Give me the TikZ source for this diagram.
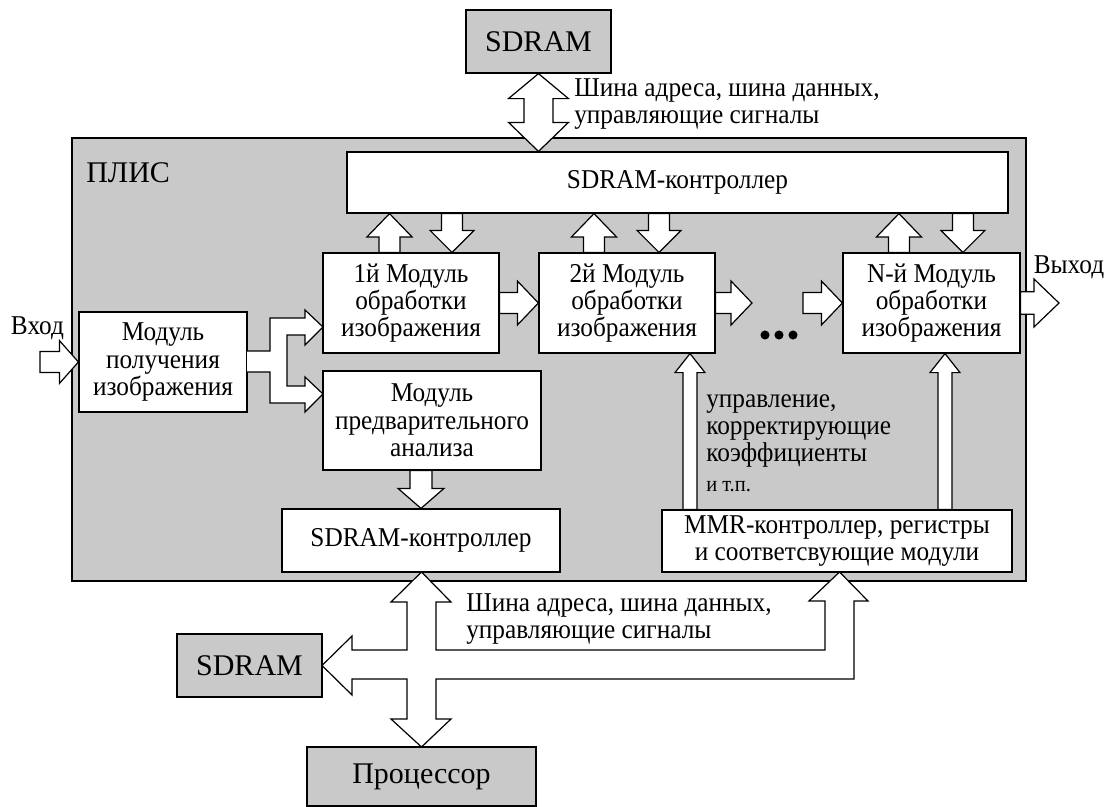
\documentclass[tikz,border=0pt]{standalone}
\usepackage{fontspec}
\setmainfont{Liberation Serif}
\newfontfamily\tallfont{Liberation Serif}[FakeStretch=0.93]
\usetikzlibrary{calc}
\definecolor{gr}{gray}{0.79}
\newcommand\fs{\tallfont\fontsize{20.4}{20.5}\selectfont}
\newcommand\fss{\tallfont\fontsize{16.5}{17}\selectfont}
\newcommand\fl{\fontsize{22.5}{26}\selectfont}
% horizontal block arrow: from #1 to tip #2; shaft half #3, head half #4, head length #5
\newcommand\HArr[5]{\draw[blk] let \p1=(#1), \p2=(#2) in
  (\x1,\y1+#3) -- (\x2-#5,\y1+#3) -- (\x2-#5,\y1+#4) -- (\x2,\y1) -- (\x2-#5,\y1-#4) -- (\x2-#5,\y1-#3) -- (\x1,\y1-#3) -- cycle;}
% upward block arrow: base #1 (x taken from it), tip level #2
\newcommand\UArr[5]{\draw[blk] let \p1=(#1), \p2=(#2) in
  (\x1-#3,\y1) -- (\x1-#3,\y2-#5) -- (\x1-#4,\y2-#5) -- (\x1,\y2) -- (\x1+#4,\y2-#5) -- (\x1+#3,\y2-#5) -- (\x1+#3,\y1) -- cycle;}
% downward block arrow: base level #1, tip #2 (x taken from it)
\newcommand\DArr[5]{\draw[blk] let \p1=(#1), \p2=(#2) in
  (\x2-#3,\y1) -- (\x2-#3,\y2+#5) -- (\x2-#4,\y2+#5) -- (\x2,\y2) -- (\x2+#4,\y2+#5) -- (\x2+#3,\y2+#5) -- (\x2+#3,\y1) -- cycle;}
\begin{document}
\begin{tikzpicture}[x=0.75pt,y=-0.75pt,
  sz/.style 2 args={minimum width=#1*0.75pt, minimum height=#2*0.75pt},
  box/.style={draw, line width=0.9pt, fill=white, inner sep=0pt, align=center, font=\fs},
  gbox/.style={draw, line width=0.9pt, fill=gr, inner sep=0pt, align=center, font=\fl},
  fpgabox/.style={draw, line width=0.9pt, fill=gr, inner sep=0pt},
  lbl/.style={inner sep=0pt, font=\fs},
  blk/.style={draw, fill=white, line width=0.9pt, line join=miter}]
\useasboundingbox (0,0) rectangle (1111,807);

\node[gbox, sz={145}{63}] (sdramT) at (538.5,41.5) {SDRAM};
\node[fpgabox, sz={954}{443}] (fpga) at (549,359.5) {};
\node[lbl, anchor=west, font=\fl] (lplis) at (86,173) {ПЛИС};

\node[box, sz={661}{61}] (ctlT) at (677.5,182.5) {SDRAM-контроллер};
\node[box, sz={176}{100}] (m1) at (411,303) {1й Модуль\\обработки\\изображения};
\node[box, sz={176}{100}] (m2) at (627,303) {2й Модуль\\обработки\\изображения};
\node[box, sz={177}{100}] (mN) at (931.5,303) {N-й Модуль\\обработки\\изображения};
\node[box, sz={168}{100}] (mget) at (163,362) {Модуль\\получения\\изображения};
\node[box, sz={218}{99}] (mpre) at (432,420.5) {Модуль\\предварительного\\анализа};
\node[box, sz={278}{63}] (ctlB) at (421,540.5) {SDRAM-контроллер};
\node[box, sz={350}{62}] (mmr) at (837,541) {MMR-контроллер, регистры\\и соответсвующие модули};
\node[gbox, sz={145}{63}] (sdramB) at (249.5,665.5) {SDRAM};
\node[gbox, sz={229}{59}] (cpu) at (421.5,776.5) {Процессор};

\node[lbl, anchor=west, align=left] (busT) at (574,104) {Шина адреса, шина данных,\\управляющие сигналы};
\node[lbl, anchor=west, align=left] (busB) at (466,619) {Шина адреса, шина данных,\\управляющие сигналы};
\node[lbl] (vin) at (37.5,328) {Вход};
\node[lbl] (vout) at (1069,267) {Выход};
\node[lbl, anchor=west, align=left] (ctrl) at (706,431) {управление,\\корректирующие\\коэффициенты};
\node[lbl, anchor=west, font=\fss] (etc) at (706,487) {и т.п.};

\coordinate (inS) at (40,362);
\coordinate (outE) at (1059,303);
\coordinate (d1) at (752,303);
\coordinate (d2) at (803,303);

% top bus double arrow
\draw[blk] let \p1=(sdramT.south), \p2=(ctlT.north) in
  (\x1,\y1) -- (\x1+22.5pt,\y1-18.75pt) -- (\x1+10.9pt,\y1-18.75pt) -- (\x1+10.9pt,\y2+21.75pt)
  -- (\x1+22.5pt,\y2+21.75pt) -- (\x1,\y2) -- (\x1-22.5pt,\y2+21.75pt) -- (\x1-10.9pt,\y2+21.75pt)
  -- (\x1-10.9pt,\y1-18.75pt) -- (\x1-22.5pt,\y1-18.75pt) -- cycle;

% controller <-> modules
\UArr{[xshift=-16.1pt]m1.north}{ctlT.south}{7.9pt}{16.9pt}{17.5pt}
\DArr{ctlT.south}{[xshift=30.75pt]m1.north}{7.9pt}{16.5pt}{16.5pt}
\UArr{[xshift=-24.75pt]m2.north}{ctlT.south}{7.9pt}{16.9pt}{17.5pt}
\DArr{ctlT.south}{[xshift=24pt]m2.north}{7.9pt}{16.5pt}{16.5pt}
\UArr{[xshift=-24.4pt]mN.north}{ctlT.south}{7.9pt}{16.9pt}{17.5pt}
\DArr{ctlT.south}{[xshift=23.6pt]mN.north}{7.9pt}{16.5pt}{16.5pt}

% horizontal chain
\HArr{inS}{mget.west}{7.9pt}{16.1pt}{14.25pt}
\HArr{m1.east}{m2.west}{7.9pt}{16.5pt}{15.75pt}
\HArr{m2.east}{d1}{7.9pt}{16.5pt}{15.75pt}
\HArr{d2}{mN.west}{7.9pt}{16.5pt}{15.75pt}
\HArr{mN.east}{outE}{8.5pt}{18pt}{18.75pt}

\fill (765,335) circle[radius=3.4pt] (779,335) circle[radius=3.4pt] (793,335) circle[radius=3.4pt];

% fork from acquisition module
\draw[blk] (247,351) -- (270,351) -- (270,318) -- (305,318) -- (305,310) -- (323,327) -- (305,345)
  -- (305,335) -- (287,335) -- (287,386) -- (305,386) -- (305,377) -- (323,394) -- (305,412)
  -- (305,403) -- (270,403) -- (270,372) -- (247,372);

% pre-analysis -> lower controller
\DArr{mpre.south}{ctlB.north}{8.25pt}{17.25pt}{15pt}

% MMR -> modules
\UArr{[xshift=-110.25pt]mmr.north}{m2.south}{5.25pt}{11.25pt}{14.25pt}
\UArr{[xshift=81pt]mmr.north}{mN.south}{5.25pt}{11.25pt}{14.25pt}

% lower bus
\draw[blk] (421.5,572) -- (451,602) -- (436,602) -- (436,650) -- (825,650) -- (825,601) -- (809,601)
  -- (839.5,572) -- (868,601) -- (854,601) -- (854,679) -- (436,679) -- (436,719) -- (451,719)
  -- (421.5,747) -- (391,719) -- (407,719) -- (407,679) -- (352,679) -- (352,695) -- (322,665.5)
  -- (352,636) -- (352,650) -- (407,650) -- (407,602) -- (391,602) -- cycle;
\end{tikzpicture}
\end{document}
